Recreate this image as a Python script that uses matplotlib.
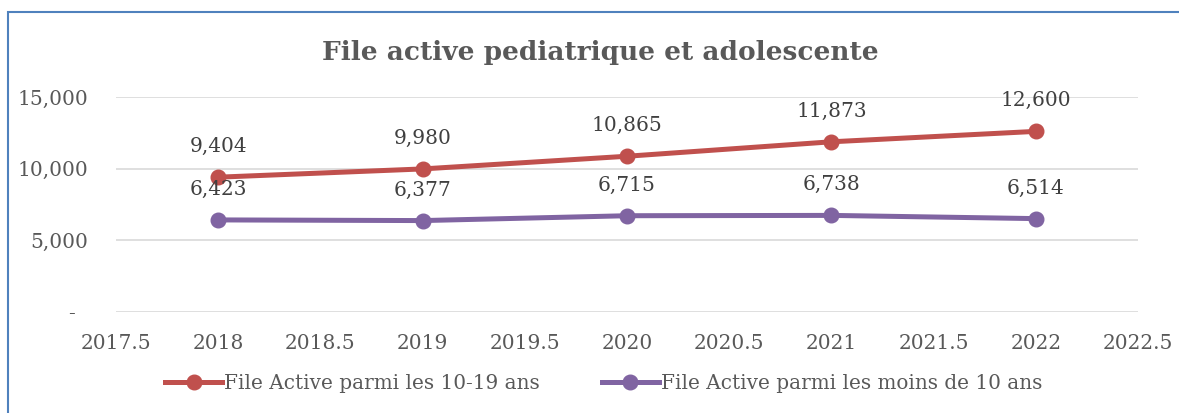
import matplotlib.pyplot as plt
from matplotlib.ticker import FuncFormatter, MultipleLocator
from matplotlib.patches import Rectangle

years = [2018, 2019, 2020, 2021, 2022]
ados_10_19 = [9404, 9980, 10865, 11873, 12600]
moins_10 = [6423, 6377, 6715, 6738, 6514]
series_names = ["File Active parmi les 10-19 ans", "File Active parmi les moins de 10 ans"]

plt.rcParams['font.family'] = ['DejaVu Serif']
text_col = "#595959"
red = "#C0504D"
purple = "#8064A2"

fig = plt.figure(figsize=(11.79, 4.13), dpi=100)
ax = fig.add_axes([0.0984, 0.2446, 0.8668, 0.5206])

ax.plot(years, ados_10_19, color=red, lw=3.6, marker="o", ms=10.5, label=series_names[0])
ax.plot(years, moins_10, color=purple, lw=3.6, marker="o", ms=10.5, label=series_names[1])

# data labels above each point
for x, y in zip(years, ados_10_19):
    ax.annotate(f"{y:,}", (x, y), xytext=(0, 22), textcoords="offset points",
                ha="center", va="center", fontsize=14.5, color="#404040")
for x, y in zip(years, moins_10):
    ax.annotate(f"{y:,}", (x, y), xytext=(0, 22), textcoords="offset points",
                ha="center", va="center", fontsize=14.5, color="#404040")

ax.set_xlim(2017.5, 2022.5)
ax.set_ylim(0, 15000)
ax.xaxis.set_major_locator(MultipleLocator(0.5))
ax.yaxis.set_major_locator(MultipleLocator(5000))
ax.xaxis.set_major_formatter(FuncFormatter(lambda v, p: f"{v:g}"))
ax.yaxis.set_major_formatter(FuncFormatter(lambda v, p: "-  " if v == 0 else f"{int(v):,}"))
ax.grid(axis="y", color="#D9D9D9", lw=1.2)
ax.set_axisbelow(True)
for s in ax.spines.values():
    s.set_visible(False)
ax.tick_params(length=0, labelsize=14.5, colors=text_col)
ax.tick_params(axis="x", pad=16)
ax.tick_params(axis="y", pad=20)

fig.text(0.509, 0.874, "File active pediatrique et adolescente", ha="center", va="center",
         fontsize=19, fontweight="bold", color=text_col)

fig.legend(loc="center", bbox_to_anchor=(0.512, 0.072), ncol=2, frameon=False,
           fontsize=14.4, labelcolor=text_col, handlelength=2.85, columnspacing=3.1,
           handletextpad=0.1)

fig.add_artist(Rectangle((8 / 1179, -0.1), 1.2, 1 - 12 / 413 + 0.1, transform=fig.transFigure,
                         fill=False, edgecolor="#4F81BD", lw=1.5))

fig.savefig("out.png", dpi=100)
